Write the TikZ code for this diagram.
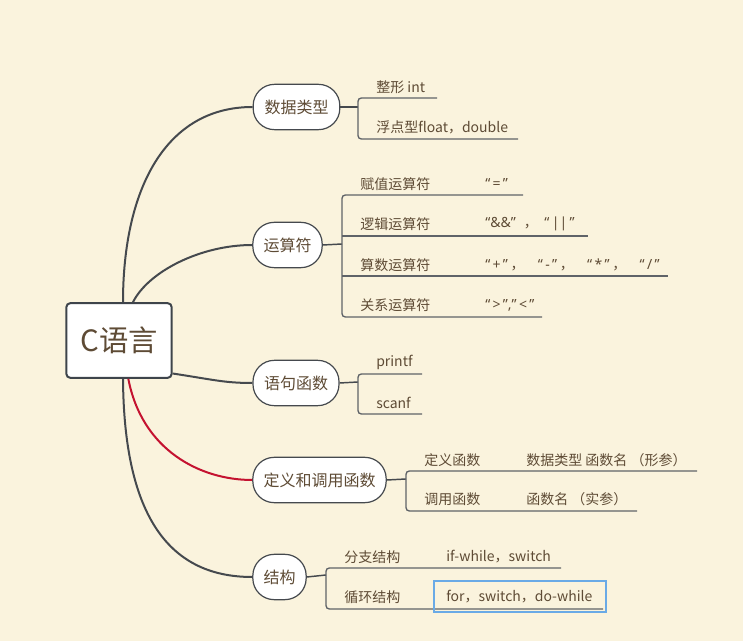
\documentclass[tikz,border=0pt]{standalone}
\usepackage{fontspec}
\setmainfont{Noto Sans CJK SC}
\newfontfamily\lat{Noto Sans}
\definecolor{bgc}{HTML}{FAF3DD}
\definecolor{txt}{HTML}{5E4B35}
\definecolor{rootline}{HTML}{3E444B}
\definecolor{linkc}{HTML}{45494E}
\definecolor{redlink}{HTML}{C41230}
\definecolor{subline}{HTML}{5F6368}
\definecolor{selblue}{HTML}{6AAAE6}
\tikzset{
  root/.style={draw=rootline, fill=white, line width=1.5pt, rounded corners=3pt,
    minimum width=79pt, minimum height=56pt, text=txt, font=\fontsize{22}{26}\selectfont},
  topic/.style={draw=linkc, fill=white, line width=0.9pt, rounded corners=16pt,
    minimum height=34pt, inner xsep=4pt, text=txt, font=\fontsize{12}{14}\selectfont},
  leaf/.style={anchor=west, inner sep=0pt, text=txt, font=\fontsize{10.5}{12}\selectfont},
  link/.style={draw=linkc, line width=1.5pt},
  stub/.style={draw=linkc, line width=1.1pt},
  under/.style={draw=subline, line width=1pt, rounded corners=2.5pt},
}
\newcommand{\qsep}{\hspace{2pt}，\hspace{10pt}}
\begin{document}
\begin{tikzpicture}[x=0.75pt, y=-0.75pt]
    \fill[bgc] (0,0) rectangle (743,641);
    \useasboundingbox (0,0) rectangle (743,641);

    \node[root] (c) at (119,340.5) {C语言};
    \node[topic, minimum width=65pt] (shuju) at (296.5,107) {数据类型};
    \node[topic, minimum width=52pt] (yunsuan) at (287.5,245) {运算符};
    \node[topic, minimum width=64.5pt] (yuju) at (296,383) {语句函数};
    \node[topic, minimum width=100pt] (dingyi) at (319.5,480) {定义和调用函数};
    \node[topic, minimum width=40pt] (jiegou) at (279.5,577) {结构};

    \draw[link] ([xshift=3pt]c.north) .. controls (123,190) and (165,107) .. (shuju.west);
    \draw[link] ([xshift=10.5pt]c.north) .. controls (148,272) and (200,245) .. (yunsuan.west);
    \draw[link] ([yshift=4pt]c.south east) .. controls (215,380) and (225,383) .. (yuju.west);
    \draw[link, draw=redlink] ([xshift=7pt]c.south) .. controls (142,450) and (200,480) .. (dingyi.west);
    \draw[link] ([xshift=3pt]c.south) .. controls (124,510) and (165,577) .. (jiegou.west);

    % 数据类型
    \coordinate (shujuB) at (358,107);
    \draw[stub] (shuju.east) -- (shujuB);
    \draw[under] (437,98) -- (358,98) -- (358,139) -- (518,139);
    \node[leaf] (zhengxing) at (376,87) {整形 int};
    \node[leaf] (fudian) at (376,127) {浮点型float，double};

    % 运算符
    \coordinate (yunsuanB) at (342,244);
    \draw[stub] (yunsuan.east) -- (yunsuanB);
    \draw[under] (523,195) -- (342,195) -- (342,317) -- (542,317);
    \draw[under] (342,236) -- (588,236);
    \draw[under] (342,276) -- (668,276);
    \node[leaf] (fuzhi) at (360,184) {赋值运算符};
    \node[leaf] (luoji) at (360,224) {逻辑运算符};
    \node[leaf] (suanshu) at (360,265) {算数运算符};
    \node[leaf] (guanxi) at (360,305) {关系运算符};
    \node[leaf] (fuzhiV) at (485,184) {{\lat “\,=\,”}};
    \node[leaf] (luojiV) at (485,224) {{\lat “\&\&”}\hspace{6pt}，\hspace{5pt}{\lat “\,||\,”}};
    \node[leaf] (suanshuV) at (485,265) {{\lat “\,+\,”}\qsep{\lat “\,-\,”}\qsep{\lat “\,*\,”}\qsep{\lat “\,/\,”}};
    \node[leaf] (guanxiV) at (485,305) {{\lat “\,>\,”,”\,<\,”}};

    % 语句函数
    \coordinate (yujuB) at (358,382);
    \draw[stub] (yuju.east) -- (yujuB);
    \draw[under] (422,374) -- (358,374) -- (358,414) -- (422,414);
    \node[leaf] (printf) at (376,362) {printf};
    \node[leaf] (scanf) at (376,403) {scanf};

    % 定义和调用函数
    \coordinate (dingyiB) at (406,479);
    \draw[stub] (dingyi.east) -- (dingyiB);
    \draw[under] (697,471) -- (406,471) -- (406,511) -- (637,511);
    \node[leaf] (dyhs) at (424,460) {定义函数};
    \node[leaf] (dyhsV) at (526,460) {数据类型 函数名 （形参）};
    \node[leaf] (dyhs2) at (424,499) {调用函数};
    \node[leaf] (dyhs2V) at (526,499) {函数名 （实参）};

    % 结构
    \coordinate (jiegouB) at (326,575);
    \draw[stub] (jiegou.east) -- (jiegouB);
    \draw[under] (561,568) -- (326,568) -- (326,609) -- (603,609);
    \node[leaf] (fenzhi) at (344,557) {分支结构};
    \node[leaf] (fenzhiV) at (446,557) {if-while，switch};
    \node[leaf] (xunhuan) at (344,597) {循环结构};
    \node[leaf] (xunhuanV) at (446,597) {for，switch，do-while};
    \draw[selblue, line width=1.5pt] (434,581) rectangle (606,612);
\end{tikzpicture}
\end{document}
